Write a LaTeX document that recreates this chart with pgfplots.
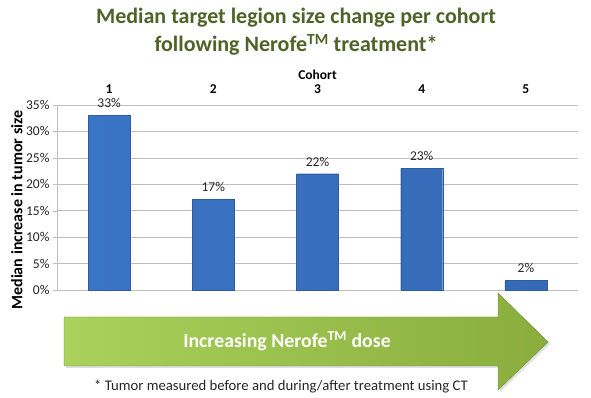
\documentclass[border=0pt]{standalone}
\usepackage{fontspec}
\setmainfont{Carlito}
\usepackage{pgfplots}
\pgfplotsset{compat=1.18}
\definecolor{titlegreen}{HTML}{4F6228}
\definecolor{gridgray}{HTML}{BFBFBF}
\definecolor{txt}{HTML}{262626}
\definecolor{barL}{HTML}{3A74C4}
\definecolor{barM}{HTML}{5896E2}
\definecolor{barR}{HTML}{3569B6}
\definecolor{barD}{HTML}{2F5C9C}
\definecolor{arrL}{HTML}{A9D15B}
\definecolor{arrR}{HTML}{8AAD3E}
\begin{document}
\begin{tikzpicture}[x=1pt,y=1pt]
\path (0,0) rectangle (591,398);
% title
\node[align=center,text=titlegreen,font=\fontsize{22}{28}\selectfont\bfseries] at (296,366)
  {Median target legion size change per cohort\\following Nerofe\textsuperscript{TM} treatment*};
% arrow
\fill[gray!40,opacity=0.6] (66,79) -- (500,79) -- (500,103) -- (550,54) -- (500,6) -- (500,30) -- (66,30) -- cycle;
\shade[left color=arrL, right color=arrR, draw=arrR!80!black, line width=0.4pt]
  (64,81) -- (498,81) -- (498,105) -- (548,56) -- (498,8) -- (498,32) -- (64,32) -- cycle;
\node[text=white,font=\fontsize{19.8}{24}\selectfont\bfseries] at (287,57) {Increasing Nerofe\textsuperscript{TM} dose};
\node[text=txt,font=\fontsize{14.7}{17}\selectfont] at (281,11) {* Tumor measured before and during/after treatment using CT};
\begin{axis}[
  at={(57pt,108pt)}, anchor=south west,
  scale only axis, width=521pt, height=185pt,
  xmin=0.5, xmax=5.5, ymin=0, ymax=35,
  axis y line*=left, axis x line*=top,
  axis line style={gridgray},
  xtick={1,2,3,4,5},
  xticklabels={1,2,3,4,5},
  x tick style={draw=none},
  xticklabel style={font=\fontsize{13.5}{15}\selectfont\bfseries, text=black, yshift=4pt},
  xlabel={Cohort},
  xlabel style={font=\fontsize{13.5}{15}\selectfont\bfseries, text=black, yshift=-2pt},
  ytick={0,5,...,35},
  yticklabel={\pgfmathprintnumber{\tick}\%},
  yticklabel style={font=\fontsize{13.5}{15}\selectfont, text=txt},
  /pgf/number format/assume math mode=true,
  y tick style={gridgray},
  tick align=outside, major tick length=4pt,
  ymajorgrids, grid style={gridgray, line width=0.6pt},
  ylabel={Median increase in tumor size},
  ylabel style={font=\fontsize{16}{18}\selectfont\bfseries, text=black, at={(axis description cs:-0.077,0.432)}, anchor=center},
  clip=false,
]
\addplot[ybar, bar width=42pt, draw=barD, line width=0.4pt,
  left color=barL, middle color=barM, right color=barR,
  point meta=explicit symbolic,
  nodes near coords,
  nodes near coords style={font=\fontsize{13.5}{15}\selectfont, text=txt, yshift=4pt}]
  coordinates {(1,33)[33\%] (2,17.2)[17\%] (3,22)[22\%] (4,23)[23\%] (5,1.8)[2\%]};
\end{axis}
\end{tikzpicture}
\end{document}
